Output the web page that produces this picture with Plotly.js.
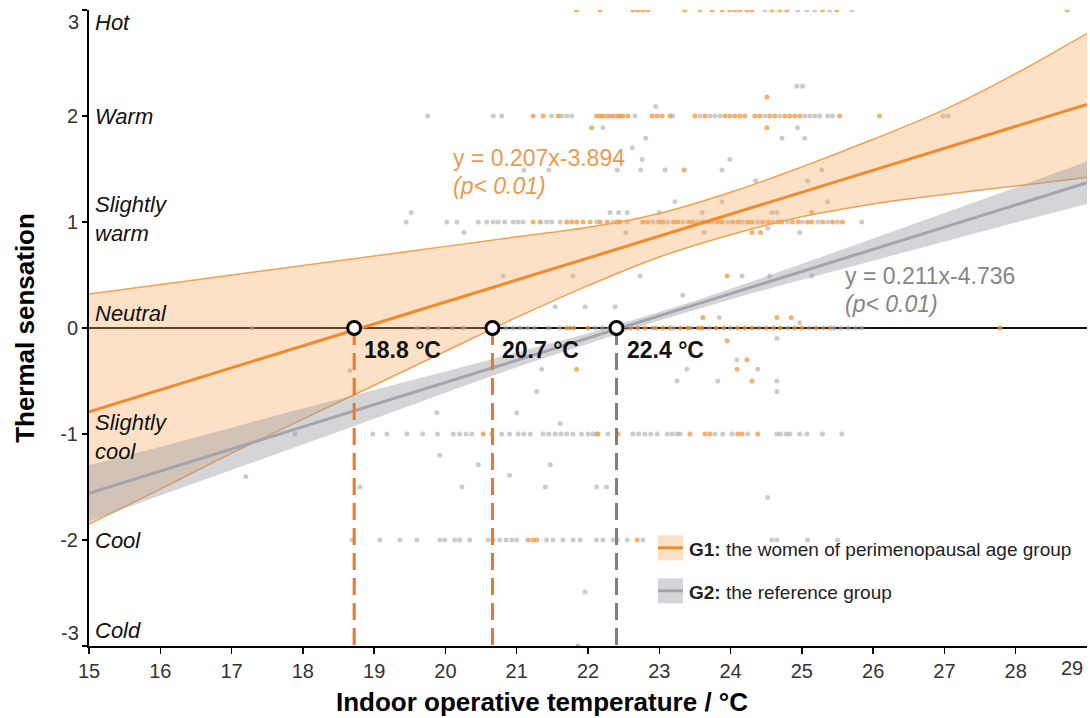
<!DOCTYPE html>
<html><head><meta charset="utf-8">
<script src="https://cdn.plot.ly/plotly-3.0.1.min.js"></script>
<style>html,body{margin:0;padding:0;background:#fff}#chart{width:1090px;height:718px}</style>
</head><body><div id="chart"></div>
<script>
// ---- regression lines ----
const lineX = [15, 29];
const g1LineY = [-0.79, 2.11];
const g2LineY = [-1.56, 1.37];
// ---- confidence bands ----
const bandX   = [15, 16, 17, 18, 19, 20, 21, 22, 23, 24, 25, 26, 27, 28, 29];
const g1Lower = [-1.85, -1.52, -1.18, -0.86, -0.54, -0.22, 0.10, 0.40, 0.67, 0.88, 1.05, 1.17, 1.26, 1.34, 1.42];
const g1Upper = [0.32, 0.41, 0.50, 0.59, 0.68, 0.77, 0.86, 0.95, 1.08, 1.28, 1.52, 1.78, 2.06, 2.40, 2.78];
const g2Lower = [-1.825, -1.58, -1.34, -1.10, -0.855, -0.61, -0.37, -0.15, 0.07, 0.27, 0.455, 0.635, 0.815, 0.995, 1.17];
const g2Upper = [-1.295, -1.12, -0.94, -0.76, -0.585, -0.41, -0.23, -0.05, 0.15, 0.37, 0.605, 0.845, 1.085, 1.325, 1.57];
// ---- neutral temperatures ----
const neutralT = [18.72, 20.66, 22.40];
const neutralText = ['18.8 °C', '20.7 °C', '22.4 °C'];
// ---- axis labels ----
const yTickVals = [-3, -2, -1, 0, 1, 2, 3];
const xTickVals = [15, 16, 17, 18, 19, 20, 21, 22, 23, 24, 25, 26, 27, 28];
const sensationNames = ['Hot', 'Warm', 'Slightly<br>warm', 'Neutral', 'Slightly<br>cool', 'Cool', 'Cold'];
const sensationPos = [2.88, 2.0, 1.03, 0.14, -1.03, -2.0, -2.85];

// ---- scatter votes, G1 (orange) ----
const g1Hot = [21.84, 22.17, 22.63, 22.70, 22.77, 22.84, 23.36, 23.57, 23.74, 23.88, 23.99, 24.06, 24.13, 24.23, 24.30, 24.58, 24.69, 24.79, 25.29, 25.49, 28.72];
const g1Warm = [21.23, 21.37, 21.58, 22.12, 22.17, 22.21, 22.27, 22.35, 22.41, 22.45, 22.49, 22.56, 22.90, 22.97, 23.04, 23.15, 23.50, 23.64, 23.92, 23.99, 24.06, 24.13, 24.20, 24.34, 24.41, 24.55, 24.62, 24.76, 24.83, 24.90, 24.97, 25.53, 26.09];
const g1SlWarm = [21.23, 21.33, 21.70, 21.77, 21.84, 21.93, 22.03, 22.17, 22.27, 22.41, 22.45, 22.77, 22.84, 22.99, 23.05, 23.20, 23.26, 23.41, 23.47, 23.61, 23.69, 23.82, 23.88, 24.03, 24.11, 24.24, 24.30, 24.45, 24.53, 24.66, 24.72, 24.87, 24.95, 25.08, 25.14, 25.29, 25.43, 25.57];
const g1Neutral = [21.70, 21.80, 22.00, 22.45, 22.60, 22.70, 22.80, 22.95, 23.05, 23.15, 23.30, 23.40, 23.55, 23.60, 23.80, 23.90, 24.10, 24.20, 24.30, 24.50, 24.60, 24.70, 24.90, 25.00, 25.20, 25.40, 27.78];
const g1SlCool = [20.53, 22.14, 22.42, 23.43, 23.64, 23.71, 24.10, 24.16, 24.38];
const g1Cool = [21.16, 21.23, 21.28, 22.69];
const g1Cold = [21.86];
const g1OffX = [24.51, 22.05, 24.51, 23.35, 25.14, 24.30, 24.42, 23.95, 23.61, 24.65, 24.85, 23.95, 24.23, 24.09, 21.84, 24.30];
const g1OffY = [2.18, 1.89, 1.89, 1.49, 1.09, 0.90, 0.90, 0.49, 0.10, 0.10, 0.10, -0.12, -0.30, -0.39, -0.39, -0.50];

// ---- scatter votes, G2 (gray) ----
const g2Hot = [24.48, 24.94, 25.07, 25.18, 25.39, 25.70];
const g2Warm = [19.75, 20.67, 20.79, 21.49, 21.63, 21.70, 21.77, 22.31, 22.66, 23.19, 23.57, 23.71, 23.78, 23.85, 24.48, 24.69, 25.04, 25.11, 25.18, 25.25, 25.36, 25.43, 26.98, 27.05];
const g2SlWarm = [19.45, 20.02, 20.16, 20.46, 20.58, 20.67, 20.74, 20.83, 20.95, 21.02, 21.09, 21.42, 21.49, 21.61, 22.12, 22.35, 22.55, 22.91, 23.12, 23.33, 23.54, 23.75, 23.96, 24.17, 24.38, 24.59, 24.80, 25.01, 25.22, 25.36, 25.50, 25.84];
const g2Neutral = [17.29, 19.60, 19.75, 19.90, 20.10, 20.25, 20.85, 20.95, 21.05, 21.15, 21.25, 21.45, 21.60, 21.75, 22.10, 22.20, 22.30, 22.90, 23.20, 23.45, 23.70, 24.00, 24.40, 24.80, 25.10, 25.30, 25.45, 25.55, 25.65, 25.75, 25.84];
const g2SlCool = [17.89, 18.98, 19.18, 19.46, 19.68, 19.89, 20.11, 20.20, 20.29, 20.37, 20.65, 20.79, 20.90, 21.02, 21.10, 21.19, 21.37, 21.45, 21.54, 21.62, 21.70, 21.79, 21.91, 22.00, 22.07, 22.12, 22.28, 22.63, 22.71, 22.80, 22.88, 22.97, 23.11, 23.18, 23.25, 23.29, 23.78, 23.89, 24.02, 24.24, 24.65, 24.70, 24.78, 24.83, 24.97, 25.07, 25.29, 25.56];
const g2Cool = [18.69, 19.08, 19.36, 19.60, 19.92, 19.99, 20.13, 20.20, 20.34, 20.60, 20.67, 20.76, 20.85, 20.93, 21.00, 21.42, 21.51, 21.65, 21.79, 21.89, 22.12, 22.21, 22.35, 22.41, 22.55, 22.77, 24.58, 24.65, 25.08, 25.50];
const g2OffX = [24.93, 25.01, 22.95, 22.21, 24.94, 22.81, 24.72, 25.04, 22.62, 22.76, 23.99, 21.10, 21.45, 22.41, 22.74, 23.08, 23.88, 25.28, 24.35, 25.08, 23.22, 23.88, 25.36, 19.52, 22.31, 22.43, 22.55, 23.00, 23.60, 24.58, 24.65, 20.26, 22.53, 23.63, 24.97, 24.52, 20.81, 21.79, 22.73, 24.16, 24.55, 25.14, 23.33, 21.54, 21.96, 22.38, 23.84, 24.97, 24.65, 24.09, 24.38, 23.39, 21.35, 18.66, 23.82, 23.25, 24.65, 21.28, 24.65, 19.88, 21.00, 21.61, 19.92, 20.46, 21.47, 20.90, 17.20, 20.23, 21.40, 22.12, 22.26, 18.80, 24.52, 21.96];
const g2OffY = [2.28, 2.28, 2.09, 1.89, 1.89, 1.79, 1.79, 1.79, 1.70, 1.59, 1.59, 1.49, 1.49, 1.49, 1.49, 1.49, 1.49, 1.49, 1.39, 1.39, 1.19, 1.19, 1.19, 1.09, 1.09, 1.09, 1.09, 1.09, 1.09, 1.09, 1.09, 0.90, 0.90, 0.90, 0.90, 0.94, 0.49, 0.49, 0.49, 0.49, 0.49, 0.49, 0.31, 0.20, 0.20, 0.20, 0.10, 0.05, -0.10, -0.30, -0.39, -0.39, -0.39, -0.40, -0.50, -0.50, -0.50, -0.60, -0.60, -0.80, -0.80, -0.90, -1.20, -1.29, -1.29, -1.39, -1.40, -1.50, -1.50, -1.50, -1.50, -1.50, -1.60, -2.49];

function collect(rows, levels, offX, offY) {
  const xs = [], ys = [];
  rows.forEach((r, i) => r.forEach(v => { xs.push(v); ys.push(levels[i]); }));
  offX.forEach((v, i) => { xs.push(v); ys.push(offY[i]); });
  return {xs, ys};
}
const g1Pts = collect([g1Hot, g1Warm, g1SlWarm, g1Neutral, g1SlCool, g1Cool, g1Cold], [3, 2, 1, 0, -1, -2, -3], g1OffX, g1OffY);
const g2Pts = collect([g2Hot, g2Warm, g2SlWarm, g2Neutral, g2SlCool, g2Cool], [3, 2, 1, 0, -1, -2], g2OffX, g2OffY);

const ORANGE = '#F08A2C';
const ORANGE_EDGE = '#F0A052';
const GRAY_FILL = 'rgba(155,155,162,0.42)';
const ORANGE_FILL = 'rgba(245,165,85,0.33)';
const FONT = 'Liberation Sans, Arial, sans-serif';

const traces = [
  {x: g2Pts.xs, y: g2Pts.ys, mode: 'markers', type: 'scatter', marker: {size: 5, color: 'rgba(170,170,175,0.6)'}, hoverinfo: 'skip', showlegend: false},
  {x: g1Pts.xs, y: g1Pts.ys, mode: 'markers', type: 'scatter', marker: {size: 5, color: 'rgba(242,150,60,0.75)'}, hoverinfo: 'skip', showlegend: false},
  {x: bandX, y: g1Lower, mode: 'lines', line: {color: ORANGE_EDGE, width: 1.5, shape: 'spline'}, showlegend: false},
  {x: bandX, y: g1Upper, mode: 'lines', line: {color: ORANGE_EDGE, width: 1.5, shape: 'spline'}, fill: 'tonexty', fillcolor: ORANGE_FILL, showlegend: false},
  {x: lineX, y: g1LineY, mode: 'lines', line: {color: ORANGE, width: 3}, showlegend: false},
  {x: bandX, y: g2Lower, mode: 'lines', line: {color: 'rgba(0,0,0,0)', width: 0, shape: 'spline'}, showlegend: false},
  {x: bandX, y: g2Upper, mode: 'lines', line: {color: 'rgba(0,0,0,0)', width: 0, shape: 'spline'}, fill: 'tonexty', fillcolor: GRAY_FILL, showlegend: false},
  {x: lineX, y: g2LineY, mode: 'lines', line: {color: '#A4A4AC', width: 3}, showlegend: false}
];
const dashColors = ['#E8782A', '#E8782A', '#7F7F7F'];
neutralT.forEach((t, i) => {
  traces.push({x: [t, t], y: [0, -3], mode: 'lines', line: {color: dashColors[i], width: 3, dash: '17px,8px'}, showlegend: false});
});
traces.push({x: neutralT, y: neutralT.map(() => 0), mode: 'markers', marker: {size: 13, color: '#fff', line: {color: '#000', width: 3}}, showlegend: false});

const pxX = p => (p - 89) / 998;
const pxY = p => (645.7 - p) / 636;

const annotations = [];
sensationNames.forEach((s, i) => annotations.push({
  text: '<i>' + s + '</i>', xref: 'paper', yref: 'y', x: pxX(93), y: sensationPos[i],
  xanchor: 'left', yanchor: 'middle', showarrow: false, align: 'left',
  font: {family: FONT, size: 22, color: '#111'}
}));
neutralT.forEach((t, i) => annotations.push({
  text: '<b>' + neutralText[i] + '</b>', xref: 'x', yref: 'paper', x: t, y: pxY(350),
  xanchor: 'left', yanchor: 'middle', xshift: 8, showarrow: false,
  font: {family: FONT, size: 23, color: '#111'}
}));
annotations.push(
  {text: 'y = 0.207x-3.894', xref: 'paper', yref: 'paper', x: pxX(451), y: pxY(158), xanchor: 'left', yanchor: 'middle', showarrow: false, font: {family: FONT, size: 23, color: '#EE9A4C'}},
  {text: '<i>(p&lt; 0.01)</i>', xref: 'paper', yref: 'paper', x: pxX(451), y: pxY(186), xanchor: 'left', yanchor: 'middle', showarrow: false, font: {family: FONT, size: 23, color: '#EE9A4C'}},
  {text: 'y = 0.211x-4.736', xref: 'paper', yref: 'paper', x: pxX(843), y: pxY(276), xanchor: 'left', yanchor: 'middle', showarrow: false, font: {family: FONT, size: 23, color: '#858585'}},
  {text: '<i>(p&lt; 0.01)</i>', xref: 'paper', yref: 'paper', x: pxX(843), y: pxY(304), xanchor: 'left', yanchor: 'middle', showarrow: false, font: {family: FONT, size: 23, color: '#858585'}},
  {text: '<b>G1:</b> the women of perimenopausal age group', xref: 'paper', yref: 'paper', x: pxX(687), y: pxY(549), xanchor: 'left', yanchor: 'middle', showarrow: false, font: {family: FONT, size: 19, color: '#222'}},
  {text: '<b>G2:</b> the reference group', xref: 'paper', yref: 'paper', x: pxX(687), y: pxY(592), xanchor: 'left', yanchor: 'middle', showarrow: false, font: {family: FONT, size: 19, color: '#222'}},
  {text: '3', xref: 'paper', yref: 'paper', x: pxX(81), y: pxY(22), xanchor: 'right', yanchor: 'middle', showarrow: false, font: {family: FONT, size: 20, color: '#333'}},
  {text: '-3', xref: 'paper', yref: 'paper', x: pxX(81), y: pxY(633), xanchor: 'right', yanchor: 'middle', showarrow: false, font: {family: FONT, size: 20, color: '#333'}},
  {text: '29', xref: 'paper', yref: 'paper', x: pxX(1072), y: pxY(668), xanchor: 'center', yanchor: 'middle', showarrow: false, font: {family: FONT, size: 20, color: '#333'}},
  {text: '<b>Indoor operative temperature / °C</b>', xref: 'paper', yref: 'paper', x: pxX(542), y: pxY(702), xanchor: 'center', yanchor: 'middle', showarrow: false, font: {family: FONT, size: 26, color: '#000'}}
);

const shapes = [
  {type: 'line', xref: 'x', yref: 'y', x0: 15, x1: 29, y0: 0, y1: 0, layer: 'below', line: {color: '#111', width: 2}},
  {type: 'rect', xref: 'paper', yref: 'paper', x0: pxX(658), x1: pxX(683), y0: pxY(560), y1: pxY(535), line: {width: 0}, fillcolor: ORANGE_FILL},
  {type: 'line', xref: 'paper', yref: 'paper', x0: pxX(658), x1: pxX(683), y0: pxY(547.5), y1: pxY(547.5), line: {color: ORANGE, width: 3}},
  {type: 'rect', xref: 'paper', yref: 'paper', x0: pxX(658), x1: pxX(683), y0: pxY(603), y1: pxY(578), line: {width: 0}, fillcolor: GRAY_FILL},
  {type: 'line', xref: 'paper', yref: 'paper', x0: pxX(658), x1: pxX(683), y0: pxY(590.5), y1: pxY(590.5), line: {color: '#A4A4AC', width: 3}}
];

const layout = {
  width: 1090, height: 718,
  margin: {l: 89, r: 3, t: 10, b: 72, pad: 0},
  paper_bgcolor: '#fff', plot_bgcolor: '#fff',
  showlegend: false,
  font: {family: FONT, color: '#333'},
  xaxis: {
    range: [15, 29], tickvals: xTickVals, ticktext: xTickVals.map(String),
    showline: true, linecolor: '#000', linewidth: 2, ticks: 'outside', ticklen: 6, tickwidth: 1.5, tickcolor: '#000',
    showgrid: false, zeroline: false, tickfont: {family: FONT, size: 20, color: '#333'}
  },
  yaxis: {
    range: [-3, 3], tickvals: yTickVals, ticktext: yTickVals.map(v => (v === 3 || v === -3) ? '' : String(v)),
    showline: true, linecolor: '#000', linewidth: 2, ticks: 'outside', ticklen: 5, tickwidth: 1.5, tickcolor: '#000',
    showgrid: false, zeroline: false, tickfont: {family: FONT, size: 20, color: '#333'},
    title: {text: '<b>Thermal sensation</b>', font: {family: FONT, size: 26, color: '#000'}, standoff: 18}
  },
  annotations: annotations,
  shapes: shapes
};

Plotly.newPlot('chart', traces, layout, {displayModeBar: false, staticPlot: true});
</script></body></html>
